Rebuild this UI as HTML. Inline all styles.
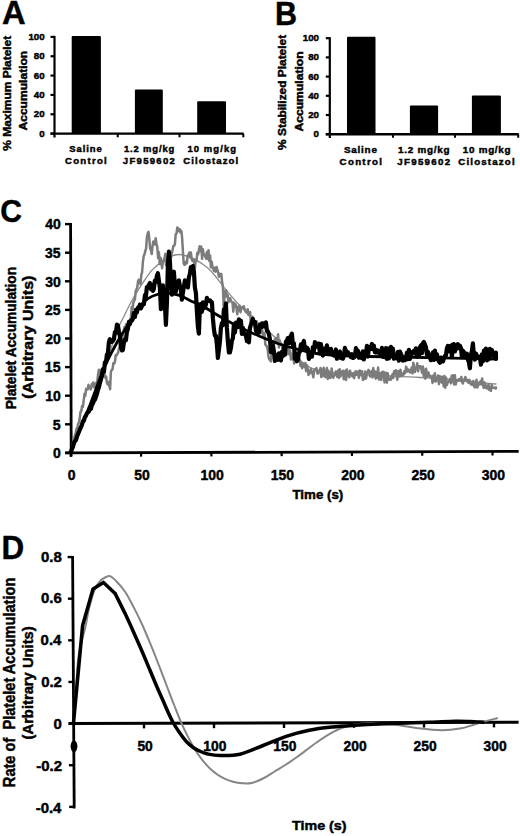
<!DOCTYPE html>
<html><head><meta charset="utf-8"><style>
html,body{margin:0;padding:0;background:#fff;}
svg{display:block;}
text{font-family:"Liberation Sans", sans-serif;font-weight:bold;white-space:pre;}
</style></head><body>
<svg width="520" height="836" viewBox="0 0 520 836">
<rect width="520" height="836" fill="#fff"/>
<text transform="translate(2.08,23.80) scale(1.0069,1)" font-size="32.46" fill="#000" stroke="#000" stroke-width="0.45">A</text>
<text transform="translate(274.92,24.60) scale(0.9393,1)" font-size="32.46" fill="#000" stroke="#000" stroke-width="0.45">B</text>
<text transform="translate(0.20,222.19) scale(0.9619,1)" font-size="31.27" fill="#000" stroke="#000" stroke-width="0.45">C</text>
<text transform="translate(1.46,558.80) scale(0.9624,1)" font-size="32.61" fill="#000" stroke="#000" stroke-width="0.45">D</text>
<rect x="71.70" y="36.00" width="29.20" height="97.60" fill="#000" rx="1"/>
<rect x="134.90" y="89.60" width="27.90" height="44.00" fill="#000" rx="1"/>
<rect x="197.20" y="101.20" width="28.80" height="32.40" fill="#000" rx="1"/>
<line x1="54.50" y1="35.90" x2="54.50" y2="137.50" stroke="#000" stroke-width="2.2" stroke-linecap="butt"/>
<line x1="50.50" y1="133.60" x2="54.50" y2="133.60" stroke="#000" stroke-width="2.2" stroke-linecap="butt"/>
<line x1="50.50" y1="114.26" x2="54.50" y2="114.26" stroke="#000" stroke-width="2.2" stroke-linecap="butt"/>
<line x1="50.50" y1="94.92" x2="54.50" y2="94.92" stroke="#000" stroke-width="2.2" stroke-linecap="butt"/>
<line x1="50.50" y1="75.58" x2="54.50" y2="75.58" stroke="#000" stroke-width="2.2" stroke-linecap="butt"/>
<line x1="50.50" y1="56.24" x2="54.50" y2="56.24" stroke="#000" stroke-width="2.2" stroke-linecap="butt"/>
<line x1="50.50" y1="36.90" x2="54.50" y2="36.90" stroke="#000" stroke-width="2.2" stroke-linecap="butt"/>
<line x1="50.50" y1="133.60" x2="243.60" y2="133.60" stroke="#000" stroke-width="2.4" stroke-linecap="butt"/>
<line x1="117.70" y1="133.60" x2="117.70" y2="137.30" stroke="#000" stroke-width="2" stroke-linecap="butt"/>
<line x1="179.50" y1="133.60" x2="179.50" y2="137.30" stroke="#000" stroke-width="2" stroke-linecap="butt"/>
<line x1="243.30" y1="133.60" x2="243.30" y2="137.30" stroke="#000" stroke-width="2" stroke-linecap="butt"/>
<text transform="translate(39.20,136.60) scale(1.0000,1)" font-size="9.72" fill="#000" stroke="#000" stroke-width="0.45">0</text>
<text transform="translate(33.80,117.26) scale(1.0000,1)" font-size="9.72" fill="#000" stroke="#000" stroke-width="0.45">20</text>
<text transform="translate(33.80,97.92) scale(1.0000,1)" font-size="9.72" fill="#000" stroke="#000" stroke-width="0.45">40</text>
<text transform="translate(33.80,78.58) scale(1.0000,1)" font-size="9.72" fill="#000" stroke="#000" stroke-width="0.45">60</text>
<text transform="translate(33.80,59.24) scale(1.0000,1)" font-size="9.72" fill="#000" stroke="#000" stroke-width="0.45">80</text>
<text transform="translate(28.41,39.90) scale(1.0000,1)" font-size="9.72" fill="#000" stroke="#000" stroke-width="0.45">100</text>
<text x="69.22" y="151.50" font-size="9.42" letter-spacing="0.97" fill="#000" stroke="#000" stroke-width="0.45">Saline</text>
<text x="65.02" y="164.20" font-size="9.57" letter-spacing="1.28" fill="#000" stroke="#000" stroke-width="0.45">Control</text>
<text x="123.89" y="151.50" font-size="9.42" letter-spacing="0.87" fill="#000" stroke="#000" stroke-width="0.45">1.2 mg/kg</text>
<text x="122.86" y="164.20" font-size="9.57" letter-spacing="1.28" fill="#000" stroke="#000" stroke-width="0.45">JF959602</text>
<text x="187.39" y="151.50" font-size="9.42" letter-spacing="1.13" fill="#000" stroke="#000" stroke-width="0.45">10 mg/kg</text>
<text x="183.32" y="164.20" font-size="9.57" letter-spacing="1.08" fill="#000" stroke="#000" stroke-width="0.45">Cilostazol</text>
<text transform="translate(11.28,150.70) rotate(-90) scale(1.0358,1)" font-size="11.56" fill="#000" stroke="#000" stroke-width="0.45">% Maximum Platelet</text>
<text transform="translate(27.19,130.50) rotate(-90) scale(1.0825,1)" font-size="11.16" fill="#000" stroke="#000" stroke-width="0.45">Accumulation</text>
<rect x="347.00" y="36.70" width="28.50" height="97.50" fill="#000" rx="1"/>
<rect x="409.90" y="105.50" width="28.20" height="28.70" fill="#000" rx="1"/>
<rect x="471.90" y="95.60" width="29.00" height="38.60" fill="#000" rx="1"/>
<line x1="329.80" y1="37.20" x2="329.80" y2="138.00" stroke="#000" stroke-width="2.2" stroke-linecap="butt"/>
<line x1="325.80" y1="134.20" x2="329.80" y2="134.20" stroke="#000" stroke-width="2.2" stroke-linecap="butt"/>
<line x1="325.80" y1="115.00" x2="329.80" y2="115.00" stroke="#000" stroke-width="2.2" stroke-linecap="butt"/>
<line x1="325.80" y1="95.80" x2="329.80" y2="95.80" stroke="#000" stroke-width="2.2" stroke-linecap="butt"/>
<line x1="325.80" y1="76.60" x2="329.80" y2="76.60" stroke="#000" stroke-width="2.2" stroke-linecap="butt"/>
<line x1="325.80" y1="57.40" x2="329.80" y2="57.40" stroke="#000" stroke-width="2.2" stroke-linecap="butt"/>
<line x1="325.80" y1="38.20" x2="329.80" y2="38.20" stroke="#000" stroke-width="2.2" stroke-linecap="butt"/>
<line x1="325.80" y1="134.20" x2="518.80" y2="134.20" stroke="#000" stroke-width="2.4" stroke-linecap="butt"/>
<line x1="393.00" y1="134.20" x2="393.00" y2="137.80" stroke="#000" stroke-width="2" stroke-linecap="butt"/>
<line x1="455.00" y1="134.20" x2="455.00" y2="137.80" stroke="#000" stroke-width="2" stroke-linecap="butt"/>
<line x1="518.20" y1="134.20" x2="518.20" y2="137.80" stroke="#000" stroke-width="2" stroke-linecap="butt"/>
<text transform="translate(313.60,137.20) scale(1.0000,1)" font-size="9.72" fill="#000" stroke="#000" stroke-width="0.45">0</text>
<text transform="translate(308.20,118.00) scale(1.0000,1)" font-size="9.72" fill="#000" stroke="#000" stroke-width="0.45">20</text>
<text transform="translate(308.20,98.80) scale(1.0000,1)" font-size="9.72" fill="#000" stroke="#000" stroke-width="0.45">40</text>
<text transform="translate(308.20,79.60) scale(1.0000,1)" font-size="9.72" fill="#000" stroke="#000" stroke-width="0.45">60</text>
<text transform="translate(308.20,60.40) scale(1.0000,1)" font-size="9.72" fill="#000" stroke="#000" stroke-width="0.45">80</text>
<text transform="translate(302.81,41.20) scale(1.0000,1)" font-size="9.72" fill="#000" stroke="#000" stroke-width="0.45">100</text>
<text x="343.90" y="152.80" font-size="9.86" letter-spacing="0.80" fill="#000" stroke="#000" stroke-width="0.45">Saline</text>
<text x="339.61" y="165.00" font-size="9.71" letter-spacing="1.30" fill="#000" stroke="#000" stroke-width="0.45">Control</text>
<text x="397.96" y="152.80" font-size="9.86" letter-spacing="0.78" fill="#000" stroke="#000" stroke-width="0.45">1.2 mg/kg</text>
<text x="397.25" y="165.00" font-size="9.71" letter-spacing="1.31" fill="#000" stroke="#000" stroke-width="0.45">JF959602</text>
<text x="462.86" y="152.80" font-size="9.86" letter-spacing="0.71" fill="#000" stroke="#000" stroke-width="0.45">10 mg/kg</text>
<text x="458.31" y="165.00" font-size="9.71" letter-spacing="1.17" fill="#000" stroke="#000" stroke-width="0.45">Cilostazol</text>
<text transform="translate(286.18,149.90) rotate(-90) scale(1.0308,1)" font-size="11.56" fill="#000" stroke="#000" stroke-width="0.45">% Stabilized Platelet</text>
<text transform="translate(302.50,131.50) rotate(-90) scale(1.1895,1)" font-size="10.20" fill="#000" stroke="#000" stroke-width="0.45">Accumulation</text>
<line x1="70.60" y1="223.10" x2="71.20" y2="456.50" stroke="#000" stroke-width="2.8" stroke-linecap="butt"/>
<line x1="65.00" y1="452.90" x2="70.80" y2="452.90" stroke="#000" stroke-width="2.4" stroke-linecap="butt"/>
<line x1="65.00" y1="424.30" x2="70.80" y2="424.30" stroke="#000" stroke-width="2.4" stroke-linecap="butt"/>
<line x1="65.00" y1="395.70" x2="70.80" y2="395.70" stroke="#000" stroke-width="2.4" stroke-linecap="butt"/>
<line x1="65.00" y1="367.10" x2="70.80" y2="367.10" stroke="#000" stroke-width="2.4" stroke-linecap="butt"/>
<line x1="65.00" y1="338.50" x2="70.80" y2="338.50" stroke="#000" stroke-width="2.4" stroke-linecap="butt"/>
<line x1="65.00" y1="309.90" x2="70.80" y2="309.90" stroke="#000" stroke-width="2.4" stroke-linecap="butt"/>
<line x1="65.00" y1="281.30" x2="70.80" y2="281.30" stroke="#000" stroke-width="2.4" stroke-linecap="butt"/>
<line x1="65.00" y1="252.70" x2="70.80" y2="252.70" stroke="#000" stroke-width="2.4" stroke-linecap="butt"/>
<line x1="65.00" y1="224.10" x2="70.80" y2="224.10" stroke="#000" stroke-width="2.4" stroke-linecap="butt"/>
<line x1="65.00" y1="452.90" x2="518.70" y2="451.40" stroke="#000" stroke-width="2.8" stroke-linecap="butt"/>
<line x1="70.80" y1="452.88" x2="70.80" y2="456.88" stroke="#000" stroke-width="2.2" stroke-linecap="butt"/>
<line x1="141.08" y1="452.65" x2="141.08" y2="456.65" stroke="#000" stroke-width="2.2" stroke-linecap="butt"/>
<line x1="211.37" y1="452.42" x2="211.37" y2="456.42" stroke="#000" stroke-width="2.2" stroke-linecap="butt"/>
<line x1="281.65" y1="452.18" x2="281.65" y2="456.18" stroke="#000" stroke-width="2.2" stroke-linecap="butt"/>
<line x1="351.94" y1="451.95" x2="351.94" y2="455.95" stroke="#000" stroke-width="2.2" stroke-linecap="butt"/>
<line x1="422.23" y1="451.72" x2="422.23" y2="455.72" stroke="#000" stroke-width="2.2" stroke-linecap="butt"/>
<line x1="492.51" y1="451.49" x2="492.51" y2="455.49" stroke="#000" stroke-width="2.2" stroke-linecap="butt"/>
<text transform="translate(53.02,458.26) scale(1.0000,1)" font-size="13.94" fill="#000" stroke="#000" stroke-width="0.45">0</text>
<text transform="translate(52.70,429.66) scale(1.0000,1)" font-size="14.14" fill="#000" stroke="#000" stroke-width="0.45">5</text>
<text transform="translate(45.28,401.06) scale(1.0000,1)" font-size="13.94" fill="#000" stroke="#000" stroke-width="0.45">10</text>
<text transform="translate(44.86,372.46) scale(1.0000,1)" font-size="14.14" fill="#000" stroke="#000" stroke-width="0.45">15</text>
<text transform="translate(45.28,343.86) scale(1.0000,1)" font-size="13.94" fill="#000" stroke="#000" stroke-width="0.45">20</text>
<text transform="translate(45.07,315.26) scale(1.0000,1)" font-size="13.94" fill="#000" stroke="#000" stroke-width="0.45">25</text>
<text transform="translate(45.28,286.66) scale(1.0000,1)" font-size="13.94" fill="#000" stroke="#000" stroke-width="0.45">30</text>
<text transform="translate(45.07,258.06) scale(1.0000,1)" font-size="13.94" fill="#000" stroke="#000" stroke-width="0.45">35</text>
<text transform="translate(45.28,229.46) scale(1.0000,1)" font-size="13.94" fill="#000" stroke="#000" stroke-width="0.45">40</text>
<text transform="translate(67.73,480.06) scale(1.0000,1)" font-size="13.94" fill="#000" stroke="#000" stroke-width="0.45">0</text>
<text transform="translate(134.22,480.06) scale(1.0000,1)" font-size="13.94" fill="#000" stroke="#000" stroke-width="0.45">50</text>
<text transform="translate(200.39,480.06) scale(1.0000,1)" font-size="13.94" fill="#000" stroke="#000" stroke-width="0.45">100</text>
<text transform="translate(270.67,480.06) scale(1.0000,1)" font-size="13.94" fill="#000" stroke="#000" stroke-width="0.45">150</text>
<text transform="translate(341.17,480.06) scale(1.0000,1)" font-size="13.94" fill="#000" stroke="#000" stroke-width="0.45">200</text>
<text transform="translate(411.45,480.06) scale(1.0000,1)" font-size="13.94" fill="#000" stroke="#000" stroke-width="0.45">250</text>
<text transform="translate(481.81,480.06) scale(1.0000,1)" font-size="13.94" fill="#000" stroke="#000" stroke-width="0.45">300</text>
<text transform="translate(16.46,409.29) rotate(-90) scale(0.9675,1)" font-size="14.15" fill="#000" stroke="#000" stroke-width="0.45">Platelet Accumulation</text>
<text transform="translate(33.39,398.70) rotate(-90) scale(1.1208,1)" font-size="14.33" fill="#000" stroke="#000" stroke-width="0.45">(Arbitrary Units)</text>
<text transform="translate(292.47,498.59) scale(1.0740,1)" font-size="12.41" fill="#000" stroke="#000" stroke-width="0.45">Time (s)</text>
<path d="M70.90,452.00 C74.92,442.50 87.43,414.80 95.00,395.00 C102.57,375.20 111.43,346.37 116.30,333.20 C121.17,320.03 121.57,321.48 124.20,316.00 C126.83,310.52 129.03,305.77 132.10,300.30 C135.17,294.83 139.62,287.82 142.60,283.20 C145.58,278.58 148.23,274.97 150.00,272.60 C151.77,270.23 150.48,271.37 153.20,269.00 C155.92,266.63 161.92,260.82 166.30,258.40 C170.68,255.98 175.12,254.50 179.50,254.50 C183.88,254.50 189.18,257.08 192.60,258.40 C196.02,259.72 196.90,260.27 200.00,262.40 C203.10,264.53 206.90,266.67 211.20,271.20 C215.50,275.73 221.13,283.97 225.80,289.60 C230.47,295.23 234.72,300.18 239.20,305.00 C243.68,309.82 247.90,314.17 252.70,318.50 C257.50,322.83 263.45,327.08 268.00,331.00 C272.55,334.92 276.33,338.50 280.00,342.00 C283.67,345.50 286.53,348.87 290.00,352.00 C293.47,355.13 297.40,358.22 300.80,360.80 C304.20,363.38 307.20,365.80 310.40,367.50 C313.60,369.20 315.07,370.00 320.00,371.00 C324.93,372.00 330.00,372.75 340.00,373.50 C350.00,374.25 366.67,374.83 380.00,375.50 C393.33,376.17 406.67,376.67 420.00,377.50 C433.33,378.33 447.33,379.42 460.00,380.50 C472.67,381.58 490.00,383.42 496.00,384.00" fill="none" stroke="#8a8a8a" stroke-width="1.3" stroke-linejoin="round" stroke-linecap="round"/>
<polyline points="70.90,451.37 71.70,449.68 72.50,445.59 73.30,441.15 74.10,438.49 74.90,435.31 75.70,433.50 76.50,428.79 77.30,428.13 78.10,423.86 78.90,422.61 79.70,418.28 80.50,411.76 81.30,411.14 82.10,406.06 82.90,406.86 83.70,400.43 84.50,393.68 85.30,395.78 86.10,388.75 86.90,389.49 87.70,389.53 88.50,384.76 89.30,388.28 90.10,387.93 90.90,389.46 91.70,384.39 92.50,383.86 93.30,382.44 94.10,387.38 94.90,385.36 95.70,384.02 96.50,382.51 97.30,381.05 98.10,374.04 98.90,369.72 99.70,374.32 100.50,373.38 101.30,370.25 102.10,368.52 102.90,371.78 103.70,371.96 104.50,374.66 105.30,377.72 106.10,376.53 106.90,382.64 107.70,384.38 108.50,382.03 109.30,385.79 110.10,389.31 110.90,371.71 111.70,369.95 112.50,369.62 113.30,363.30 114.10,363.71 114.90,362.01 115.70,355.24 116.50,355.37 117.30,353.92 118.10,352.82 118.90,348.77 119.70,347.29 120.50,345.80 121.30,343.06 122.10,339.79 122.90,333.34 123.70,331.33 124.50,327.10 125.30,330.24 126.10,324.14 126.90,325.62 127.70,330.30 128.50,326.44 129.30,321.15 130.10,319.45 130.90,317.97 131.70,307.09 132.50,309.42 133.30,302.93 134.10,300.57 134.90,299.53 135.70,291.25 136.50,289.15 137.30,287.35 138.10,280.96 138.90,279.69 139.70,281.51 140.50,284.18 141.30,275.16 142.10,272.08 142.90,261.88 143.70,256.06 144.50,254.41 145.30,251.10 146.10,248.44 146.90,237.32 147.70,233.59 148.50,231.85 149.30,238.47 150.10,248.73 150.90,249.49 151.70,254.10 152.50,246.48 153.30,241.52 154.10,242.64 154.90,244.36 155.70,238.21 156.50,244.42 157.30,247.02 158.10,258.08 158.90,252.26 159.70,264.02 160.50,257.69 161.30,260.20 162.10,268.20 162.90,262.43 163.70,260.89 164.50,258.38 165.30,253.86 166.10,265.17 166.90,264.39 167.70,262.72 168.50,262.26 169.30,261.98 170.10,259.10 170.90,257.85 171.70,253.81 172.50,250.29 173.30,245.95 174.10,245.96 174.90,243.95 175.70,234.30 176.50,233.65 177.30,227.44 178.10,228.56 178.90,231.20 179.70,229.24 180.50,232.49 181.30,230.91 182.10,237.55 182.90,251.23 183.70,263.35 184.50,264.82 185.30,264.46 186.10,261.60 186.90,263.14 187.70,255.35 188.50,254.92 189.30,252.55 190.10,257.42 190.90,252.55 191.70,259.29 192.50,261.05 193.30,259.02 194.10,263.12 194.90,268.18 195.70,259.54 196.50,261.04 197.30,252.76 198.10,254.48 198.90,250.03 199.70,246.25 200.50,251.35 201.30,246.75 202.10,258.79 202.90,249.14 203.70,254.54 204.50,254.53 205.30,256.46 206.10,258.67 206.90,252.03 207.70,258.91 208.50,250.17 209.30,260.90 210.10,255.51 210.90,267.31 211.70,261.76 212.50,266.97 213.30,269.21 214.10,270.87 214.90,267.79 215.70,271.62 216.50,266.93 217.30,269.30 218.10,272.28 218.90,276.86 219.70,273.85 220.50,274.36 221.30,274.00 222.10,282.05 222.90,286.73 223.70,306.96 224.50,297.66 225.30,290.85 226.10,290.33 226.90,296.66 227.70,295.05 228.50,302.26 229.30,298.88 230.10,298.06 230.90,300.58 231.70,302.30 232.50,302.30 233.30,311.64 234.10,302.71 234.90,306.72 235.70,304.49 236.50,308.22 237.30,314.34 238.10,306.65 238.90,310.44 239.70,305.78 240.50,312.22 241.30,307.54 242.10,307.42 242.90,307.96 243.70,306.19 244.50,308.62 245.30,310.62 246.10,312.21 246.90,312.56 247.70,309.27 248.50,314.98 249.30,312.44 250.10,312.16 250.90,324.55 251.70,320.15 252.50,316.80 253.30,322.34 254.10,323.90 254.90,322.25 255.70,325.88 256.50,321.40 257.30,324.13 258.10,326.15 258.90,331.13 259.70,330.61 260.50,328.78 261.30,333.05 262.10,329.52 262.90,333.84 263.70,336.01 264.50,332.99 265.30,344.27 266.10,345.69 266.90,346.50 267.70,349.30 268.50,356.60 269.30,359.33 270.10,359.83 270.90,361.41 271.70,350.97 272.50,344.03 273.30,348.51 274.10,342.31 274.90,339.25 275.70,338.09 276.50,341.64 277.30,342.13 278.10,334.20 278.90,347.52 279.70,340.36 280.50,343.62 281.30,344.41 282.10,344.79 282.90,352.43 283.70,349.30 284.50,353.17 285.30,348.04 286.10,352.69 286.90,347.21 287.70,354.19 288.50,348.87 289.30,354.15 290.10,350.72 290.90,359.53 291.70,357.93 292.50,359.17 293.30,354.58 294.10,363.62 294.90,355.31 295.70,357.42 296.50,356.04 297.30,360.14 298.10,358.12 298.90,360.55 299.70,359.57 300.50,366.07 301.30,362.86 302.10,368.19 302.90,363.80 303.70,366.33 304.50,367.20 305.30,363.02 306.10,371.09 306.90,365.12 307.70,368.56 308.50,375.08 309.30,370.83 310.10,373.28 310.90,368.99 311.70,372.13 312.50,373.13 313.30,377.30 314.10,370.64 314.90,369.31 315.70,369.86 316.50,368.12 317.30,373.31 318.10,373.55 318.90,370.71 319.70,371.46 320.50,367.94 321.30,377.05 322.10,369.76 322.90,375.98 323.70,367.75 324.50,372.55 325.30,377.16 326.10,374.08 326.90,368.11 327.70,378.96 328.50,370.84 329.30,373.39 330.10,377.94 330.90,377.10 331.70,368.41 332.50,376.06 333.30,377.75 334.10,375.20 334.90,374.64 335.70,371.51 336.50,375.47 337.30,377.05 338.10,370.48 338.90,377.93 339.70,369.18 340.50,376.40 341.30,371.85 342.10,374.48 342.90,370.70 343.70,379.17 344.50,375.55 345.30,370.68 346.10,379.94 346.90,369.52 347.70,375.83 348.50,372.52 349.30,377.29 350.10,370.71 350.90,373.91 351.70,375.26 352.50,376.44 353.30,373.00 354.10,378.18 354.90,374.26 355.70,371.15 356.50,374.65 357.30,374.62 358.10,371.57 358.90,377.92 359.70,370.56 360.50,374.94 361.30,371.48 362.10,371.24 362.90,379.88 363.70,376.26 364.50,379.04 365.30,371.50 366.10,378.40 366.90,373.88 367.70,372.46 368.50,369.89 369.30,371.50 370.10,376.53 370.90,374.32 371.70,371.04 372.50,377.40 373.30,368.09 374.10,376.20 374.90,371.50 375.70,378.71 376.50,372.09 377.30,377.51 378.10,367.59 378.90,379.46 379.70,374.71 380.50,373.20 381.30,380.02 382.10,371.90 382.90,375.49 383.70,371.82 384.50,382.38 385.30,377.39 386.10,372.64 386.90,382.65 387.70,373.30 388.50,377.32 389.30,379.73 390.10,378.22 390.90,379.76 391.70,376.49 392.50,374.21 393.30,377.93 394.10,371.23 394.90,373.39 395.70,370.25 396.50,375.36 397.30,379.66 398.10,370.90 398.90,371.88 399.70,376.58 400.50,369.69 401.30,376.02 402.10,375.25 402.90,373.56 403.70,374.56 404.50,370.93 405.30,372.95 406.10,366.63 406.90,368.96 407.70,371.58 408.50,369.52 409.30,370.55 410.10,372.44 410.90,371.97 411.70,367.42 412.50,373.40 413.30,362.71 414.10,366.03 414.90,372.01 415.70,368.55 416.50,368.69 417.30,363.30 418.10,371.25 418.90,366.14 419.70,366.16 420.50,366.29 421.30,369.09 422.10,372.79 422.90,366.60 423.70,376.26 424.50,370.10 425.30,378.71 426.10,368.68 426.90,376.42 427.70,375.48 428.50,372.49 429.30,376.38 430.10,375.49 430.90,376.88 431.70,376.83 432.50,382.91 433.30,375.63 434.10,381.03 434.90,373.33 435.70,381.64 436.50,379.34 437.30,380.06 438.10,375.45 438.90,384.20 439.70,376.22 440.50,381.85 441.30,376.71 442.10,382.93 442.90,376.77 443.70,386.47 444.50,376.07 445.30,387.64 446.10,377.81 446.90,385.03 447.70,382.24 448.50,381.97 449.30,380.96 450.10,378.86 450.90,383.38 451.70,375.67 452.50,381.49 453.30,375.18 454.10,384.43 454.90,375.16 455.70,384.43 456.50,380.40 457.30,380.15 458.10,380.59 458.90,379.02 459.70,380.55 460.50,380.37 461.30,377.03 462.10,382.32 462.90,383.45 463.70,379.86 464.50,380.48 465.30,377.09 466.10,378.51 466.90,381.18 467.70,380.58 468.50,382.94 469.30,379.85 470.10,381.06 470.90,384.49 471.70,383.98 472.50,384.77 473.30,381.06 474.10,386.60 474.90,387.39 475.70,386.35 476.50,379.84 477.30,387.61 478.10,385.04 478.90,384.60 479.70,383.13 480.50,381.19 481.30,384.42 482.10,378.39 482.90,383.37 483.70,387.91 484.50,382.47 485.30,384.30 486.10,387.88 486.90,388.63 487.70,386.67 488.50,384.50 489.30,390.00 490.10,388.37 490.90,390.75 491.70,384.77 492.50,387.33 493.30,387.83 494.10,387.82 494.90,387.79 495.70,388.53 496.00,387.50" fill="none" stroke="#7c7c7c" stroke-width="2.5" stroke-linejoin="round" stroke-linecap="round" opacity="1"/>
<polyline points="70.90,451.37 71.90,449.26 72.90,446.96 73.90,442.65 74.90,441.21 75.90,440.07 76.90,436.79 77.90,434.28 78.90,431.93 79.90,429.24 80.90,427.26 81.90,424.83 82.90,421.28 83.90,420.63 84.90,417.11 85.90,415.85 86.90,413.32 87.90,412.22 88.90,411.46 89.90,407.75 90.90,408.91 91.90,404.99 92.90,403.50 93.90,400.95 94.90,399.76 95.90,396.89 96.90,394.02 97.90,390.07 98.90,387.31 99.90,383.11 100.90,379.55 101.90,376.08 102.90,369.46 103.90,371.97 104.90,362.39 105.90,362.47 106.90,354.79 107.90,352.91 108.90,342.27 109.90,339.18 110.90,341.83 111.90,341.79 112.90,340.89 113.90,339.12 114.90,332.03 115.90,332.92 116.90,324.66 117.90,325.46 118.90,331.46 119.90,336.15 120.90,347.16 121.90,350.40 122.90,350.09 123.90,342.22 124.90,339.39 125.90,340.29 126.90,331.79 127.90,328.81 128.90,321.94 129.90,324.13 130.90,320.75 131.90,320.60 132.90,319.00 133.90,312.88 134.90,316.87 135.90,309.89 136.90,312.44 137.90,307.67 138.90,307.35 139.90,304.78 140.90,308.36 141.90,306.09 142.90,304.63 143.90,304.25 144.90,295.17 145.90,296.25 146.90,287.04 147.90,287.48 148.90,284.74 149.90,283.08 150.90,289.26 151.90,284.87 152.90,290.89 153.90,288.57 154.90,280.52 155.90,282.06 156.90,275.77 157.90,273.16 158.90,280.82 159.90,287.85 160.90,309.08 161.90,296.13 162.90,285.28 163.90,300.53 164.90,305.42 165.90,324.84 166.90,303.28 167.90,264.66 168.90,251.68 169.90,261.57 170.90,281.27 171.90,294.69 172.90,283.40 173.90,271.73 174.90,285.80 175.90,291.53 176.90,285.19 177.90,281.69 178.90,280.41 179.90,286.07 180.90,289.97 181.90,299.76 182.90,292.76 183.90,286.52 184.90,280.26 185.90,283.68 186.90,286.57 187.90,287.37 188.90,277.27 189.90,273.74 190.90,267.17 191.90,268.68 192.90,266.06 193.90,271.65 194.90,287.71 195.90,292.93 196.90,311.36 197.90,326.91 198.90,333.67 199.90,305.86 200.90,304.09 201.90,311.80 202.90,302.26 203.90,308.07 204.90,306.92 205.90,304.71 206.90,297.89 207.90,301.06 208.90,300.22 209.90,300.29 210.90,301.70 211.90,302.11 212.90,318.24 213.90,329.19 214.90,335.56 215.90,335.61 216.90,344.50 217.90,357.98 218.90,349.99 219.90,342.06 220.90,327.88 221.90,323.23 222.90,325.15 223.90,309.33 224.90,317.68 225.90,303.30 226.90,327.89 227.90,341.98 228.90,352.46 229.90,352.44 230.90,348.03 231.90,340.53 232.90,338.21 233.90,324.36 234.90,332.60 235.90,322.60 236.90,324.61 237.90,327.08 238.90,319.28 239.90,322.32 240.90,320.74 241.90,333.89 242.90,327.76 243.90,333.42 244.90,334.51 245.90,335.44 246.90,341.12 247.90,333.45 248.90,342.31 249.90,328.00 250.90,324.96 251.90,321.82 252.90,319.03 253.90,322.98 254.90,321.87 255.90,330.60 256.90,331.95 257.90,327.88 258.90,332.64 259.90,324.69 260.90,327.38 261.90,323.39 262.90,326.56 263.90,323.53 264.90,326.08 265.90,322.37 266.90,330.79 267.90,331.41 268.90,334.24 269.90,339.16 270.90,352.13 271.90,351.92 272.90,345.35 273.90,351.15 274.90,360.95 275.90,354.88 276.90,358.68 277.90,359.78 278.90,353.43 279.90,358.41 280.90,360.44 281.90,351.85 282.90,356.12 283.90,347.94 284.90,354.73 285.90,341.52 286.90,340.70 287.90,338.08 288.90,343.41 289.90,337.31 290.90,335.82 291.90,333.74 292.90,345.03 293.90,343.24 294.90,358.98 295.90,353.45 296.90,361.28 297.90,359.84 298.90,352.81 299.90,351.82 300.90,344.41 301.90,346.97 302.90,343.65 303.90,340.94 304.90,349.41 305.90,350.17 306.90,347.59 307.90,348.92 308.90,358.86 309.90,356.45 310.90,352.07 311.90,356.70 312.90,347.00 313.90,350.99 314.90,342.18 315.90,347.04 316.90,344.68 317.90,343.70 318.90,343.63 319.90,353.49 320.90,344.00 321.90,352.85 322.90,355.63 323.90,350.55 324.90,348.43 325.90,350.66 326.90,345.40 327.90,351.81 328.90,350.94 329.90,353.24 330.90,348.79 331.90,354.41 332.90,353.08 333.90,355.59 334.90,353.24 335.90,349.45 336.90,358.75 337.90,353.51 338.90,352.37 339.90,351.58 340.90,358.13 341.90,355.88 342.90,358.70 343.90,355.76 344.90,347.86 345.90,350.68 346.90,354.01 347.90,352.15 348.90,355.21 349.90,355.05 350.90,357.05 351.90,354.14 352.90,357.92 353.90,357.53 354.90,356.46 355.90,348.15 356.90,349.99 357.90,350.89 358.90,357.77 359.90,353.61 360.90,354.16 361.90,358.16 362.90,351.42 363.90,359.51 364.90,351.73 365.90,355.72 366.90,345.74 367.90,356.54 368.90,347.32 369.90,347.13 370.90,348.98 371.90,343.96 372.90,349.00 373.90,345.78 374.90,352.27 375.90,352.51 376.90,350.08 377.90,350.60 378.90,352.85 379.90,354.04 380.90,355.09 381.90,347.95 382.90,356.86 383.90,354.56 384.90,357.11 385.90,348.13 386.90,358.92 387.90,348.54 388.90,358.32 389.90,352.32 390.90,346.80 391.90,349.38 392.90,348.65 393.90,358.69 394.90,356.26 395.90,358.21 396.90,358.32 397.90,351.77 398.90,360.72 399.90,351.70 400.90,353.83 401.90,356.05 402.90,360.59 403.90,357.26 404.90,360.20 405.90,359.32 406.90,352.70 407.90,359.09 408.90,349.84 409.90,358.90 410.90,354.89 411.90,352.24 412.90,353.33 413.90,350.95 414.90,353.13 415.90,348.35 416.90,356.58 417.90,355.37 418.90,355.62 419.90,347.43 420.90,345.57 421.90,353.24 422.90,343.30 423.90,341.91 424.90,344.51 425.90,347.28 426.90,354.75 427.90,351.85 428.90,354.82 429.90,357.48 430.90,360.16 431.90,357.31 432.90,352.44 433.90,360.00 434.90,350.59 435.90,358.95 436.90,354.37 437.90,358.45 438.90,361.49 439.90,362.73 440.90,357.56 441.90,358.21 442.90,361.46 443.90,358.54 444.90,356.00 445.90,355.51 446.90,348.34 447.90,345.90 448.90,351.27 449.90,347.42 450.90,345.75 451.90,357.18 452.90,344.54 453.90,344.09 454.90,351.48 455.90,348.85 456.90,347.09 457.90,344.12 458.90,348.18 459.90,345.66 460.90,348.02 461.90,356.79 462.90,350.68 463.90,351.95 464.90,357.21 465.90,354.96 466.90,353.62 467.90,359.55 468.90,362.12 469.90,368.29 470.90,355.00 471.90,350.93 472.90,343.38 473.90,356.19 474.90,359.58 475.90,353.49 476.90,355.70 477.90,357.69 478.90,356.88 479.90,356.80 480.90,364.63 481.90,354.31 482.90,361.34 483.90,350.56 484.90,358.22 485.90,348.50 486.90,360.37 487.90,359.61 488.90,359.00 489.90,348.76 490.90,355.64 491.90,350.18 492.90,353.42 493.90,355.93 494.90,357.11 495.90,352.64 496.00,359.00" fill="none" stroke="#000" stroke-width="4.2" stroke-linejoin="round" stroke-linecap="round" opacity="1"/>
<path d="M70.90,452.00 C74.08,444.17 84.62,418.67 90.00,405.00 C95.38,391.33 98.82,380.22 103.20,370.00 C107.58,359.78 111.92,351.60 116.30,343.70 C120.68,335.80 125.55,328.88 129.50,322.60 C133.45,316.32 136.93,310.00 140.00,306.00 C143.07,302.00 145.05,300.52 147.90,298.60 C150.75,296.68 154.03,295.43 157.10,294.50 C160.17,293.57 162.57,292.87 166.30,293.00 C170.03,293.13 175.12,293.83 179.50,295.30 C183.88,296.77 189.18,300.27 192.60,301.80 C196.02,303.33 196.47,302.65 200.00,304.50 C203.53,306.35 209.47,310.32 213.80,312.90 C218.13,315.48 221.50,317.53 226.00,320.00 C230.50,322.47 235.38,325.07 240.80,327.70 C246.22,330.33 252.35,333.17 258.50,335.80 C264.65,338.43 271.30,341.27 277.70,343.50 C284.10,345.73 290.48,347.53 296.90,349.20 C303.32,350.87 309.02,352.45 316.20,353.50 C323.38,354.55 331.37,355.00 340.00,355.50 C348.63,356.00 358.00,356.25 368.00,356.50 C378.00,356.75 388.00,356.78 400.00,357.00 C412.00,357.22 424.00,357.47 440.00,357.80 C456.00,358.13 486.67,358.80 496.00,359.00" fill="none" stroke="#000" stroke-width="2.8" stroke-linejoin="round" stroke-linecap="round"/>
<line x1="72.60" y1="556.04" x2="74.20" y2="808.50" stroke="#000" stroke-width="2.8" stroke-linecap="butt"/>
<line x1="67.61" y1="557.04" x2="72.61" y2="557.04" stroke="#000" stroke-width="2.4" stroke-linecap="butt"/>
<line x1="67.87" y1="598.68" x2="72.87" y2="598.68" stroke="#000" stroke-width="2.4" stroke-linecap="butt"/>
<line x1="68.14" y1="640.32" x2="73.14" y2="640.32" stroke="#000" stroke-width="2.4" stroke-linecap="butt"/>
<line x1="68.40" y1="681.96" x2="73.40" y2="681.96" stroke="#000" stroke-width="2.4" stroke-linecap="butt"/>
<line x1="68.66" y1="723.60" x2="73.66" y2="723.60" stroke="#000" stroke-width="2.4" stroke-linecap="butt"/>
<line x1="68.93" y1="765.24" x2="73.93" y2="765.24" stroke="#000" stroke-width="2.4" stroke-linecap="butt"/>
<line x1="69.19" y1="806.88" x2="74.19" y2="806.88" stroke="#000" stroke-width="2.4" stroke-linecap="butt"/>
<line x1="68.50" y1="723.60" x2="518.60" y2="722.30" stroke="#000" stroke-width="3" stroke-linecap="butt"/>
<line x1="144.00" y1="723.38" x2="144.00" y2="728.38" stroke="#000" stroke-width="2.4" stroke-linecap="butt"/>
<line x1="214.00" y1="723.18" x2="214.00" y2="728.18" stroke="#000" stroke-width="2.4" stroke-linecap="butt"/>
<line x1="284.00" y1="722.98" x2="284.00" y2="727.98" stroke="#000" stroke-width="2.4" stroke-linecap="butt"/>
<line x1="354.00" y1="722.78" x2="354.00" y2="727.78" stroke="#000" stroke-width="2.4" stroke-linecap="butt"/>
<line x1="424.00" y1="722.57" x2="424.00" y2="727.57" stroke="#000" stroke-width="2.4" stroke-linecap="butt"/>
<line x1="494.00" y1="722.37" x2="494.00" y2="727.37" stroke="#000" stroke-width="2.4" stroke-linecap="butt"/>
<text transform="translate(40.98,561.50) scale(1.0400,1)" font-size="14.37" fill="#000" stroke="#000" stroke-width="0.45">0.8</text>
<text transform="translate(41.06,603.45) scale(1.0400,1)" font-size="14.37" fill="#000" stroke="#000" stroke-width="0.45">0.6</text>
<text transform="translate(40.61,645.41) scale(1.0400,1)" font-size="14.37" fill="#000" stroke="#000" stroke-width="0.45">0.4</text>
<text transform="translate(41.13,687.37) scale(1.0400,1)" font-size="14.37" fill="#000" stroke="#000" stroke-width="0.45">0.2</text>
<text transform="translate(53.61,729.32) scale(1.0400,1)" font-size="14.37" fill="#000" stroke="#000" stroke-width="0.45">0</text>
<text transform="translate(36.20,771.28) scale(1.0400,1)" font-size="14.37" fill="#000" stroke="#000" stroke-width="0.45">-0.2</text>
<text transform="translate(35.68,813.24) scale(1.0400,1)" font-size="14.37" fill="#000" stroke="#000" stroke-width="0.45">-0.4</text>
<text transform="translate(137.41,751.16) scale(1.0000,1)" font-size="13.80" fill="#000" stroke="#000" stroke-width="0.45">50</text>
<text transform="translate(203.34,751.16) scale(1.0000,1)" font-size="13.80" fill="#000" stroke="#000" stroke-width="0.45">100</text>
<text transform="translate(273.34,751.16) scale(1.0000,1)" font-size="13.80" fill="#000" stroke="#000" stroke-width="0.45">150</text>
<text transform="translate(343.54,751.16) scale(1.0000,1)" font-size="13.80" fill="#000" stroke="#000" stroke-width="0.45">200</text>
<text transform="translate(413.54,751.16) scale(1.0000,1)" font-size="13.80" fill="#000" stroke="#000" stroke-width="0.45">250</text>
<text transform="translate(483.61,751.16) scale(1.0000,1)" font-size="13.80" fill="#000" stroke="#000" stroke-width="0.45">300</text>
<ellipse cx="74" cy="746.3" rx="3.4" ry="5.8" fill="#000"/>
<text transform="translate(15.23,787.15) rotate(-90) scale(0.8793,1)" font-size="16.60" fill="#000" stroke="#000" stroke-width="0.45">Rate of  Platelet Accumulation</text>
<text transform="translate(33.41,739.44) rotate(-90) scale(0.9716,1)" font-size="15.19" fill="#000" stroke="#000" stroke-width="0.45">(Arbitrary Units)</text>
<text transform="translate(291.96,830.13) scale(1.0471,1)" font-size="13.69" fill="#000" stroke="#000" stroke-width="0.45">Time (s)</text>
<path d="M73.50,723.00 C73.92,717.50 75.15,701.17 76.00,690.00 C76.85,678.83 77.05,666.43 78.60,656.00 C80.15,645.57 83.55,635.35 85.30,627.40 C87.05,619.45 87.50,614.68 89.10,608.30 C90.70,601.92 92.98,593.73 94.90,589.10 C96.82,584.47 98.75,582.52 100.60,580.50 C102.45,578.48 104.43,577.72 106.00,577.00 C107.57,576.28 108.20,575.42 110.00,576.20 C111.80,576.98 114.28,579.10 116.80,581.70 C119.32,584.30 122.32,587.60 125.10,591.80 C127.88,596.00 130.70,601.53 133.50,606.90 C136.30,612.27 139.10,617.87 141.90,624.00 C144.70,630.13 147.52,636.95 150.30,643.70 C153.08,650.45 155.82,657.37 158.60,664.50 C161.38,671.63 164.38,679.67 167.00,686.50 C169.62,693.33 171.88,699.37 174.30,705.50 C176.72,711.63 179.10,717.87 181.50,723.30 C183.90,728.73 186.30,733.48 188.70,738.10 C191.10,742.72 193.52,747.22 195.90,751.00 C198.28,754.78 200.62,757.83 203.00,760.80 C205.38,763.77 207.70,766.43 210.20,768.80 C212.70,771.17 215.53,773.33 218.00,775.00 C220.47,776.67 222.50,777.67 225.00,778.80 C227.50,779.93 230.12,781.05 233.00,781.80 C235.88,782.55 239.22,783.10 242.30,783.30 C245.38,783.50 248.05,783.80 251.50,783.00 C254.95,782.20 259.15,780.42 263.00,778.50 C266.85,776.58 270.77,773.83 274.60,771.50 C278.43,769.17 282.15,767.00 286.00,764.50 C289.85,762.00 292.67,760.13 297.70,756.50 C302.73,752.87 310.43,746.73 316.20,742.70 C321.97,738.67 327.30,735.00 332.30,732.30 C337.30,729.60 341.58,727.88 346.20,726.50 C350.82,725.12 355.65,724.55 360.00,724.00 C364.35,723.45 366.40,723.07 372.30,723.20 C378.20,723.33 387.78,723.97 395.40,724.80 C403.02,725.63 410.32,727.30 418.00,728.20 C425.68,729.10 434.50,730.15 441.50,730.20 C448.50,730.25 454.62,729.42 460.00,728.50 C465.38,727.58 469.63,725.90 473.80,724.70 C477.97,723.50 481.13,722.37 485.00,721.30 C488.87,720.23 495.00,718.80 497.00,718.30" fill="none" stroke="#858585" stroke-width="2.0" stroke-linejoin="round" stroke-linecap="round"/>
<polyline points="73.50,723.00 82.60,625.50 93.00,589.00 103.50,582.40 115.10,593.50" fill="none" stroke="#000" stroke-width="3.5" stroke-linejoin="round" stroke-linecap="round" opacity="1"/>
<path d="M115.10,593.50 C116.77,596.85 122.03,607.18 125.10,613.60 C128.17,620.02 130.70,625.77 133.50,632.00 C136.30,638.23 139.10,644.50 141.90,651.00 C144.70,657.50 147.78,665.00 150.30,671.00 C152.82,677.00 154.88,682.08 157.00,687.00 C159.12,691.92 161.17,696.33 163.00,700.50 C164.83,704.67 166.32,708.33 168.00,712.00 C169.68,715.67 171.25,719.15 173.10,722.50 C174.95,725.85 176.90,728.93 179.10,732.10 C181.30,735.27 183.90,738.90 186.30,741.50 C188.70,744.10 191.12,746.03 193.50,747.70 C195.88,749.37 198.22,750.45 200.60,751.50 C202.98,752.55 204.57,753.33 207.80,754.00 C211.03,754.67 214.63,755.47 220.00,755.50 C225.37,755.53 232.82,755.87 240.00,754.20 C247.18,752.53 255.40,748.48 263.10,745.50 C270.80,742.52 278.52,738.85 286.20,736.30 C293.88,733.75 301.52,731.75 309.20,730.20 C316.88,728.65 324.60,727.83 332.30,727.00 C340.00,726.17 348.73,725.65 355.40,725.20 C362.07,724.75 364.87,724.62 372.30,724.30 C379.73,723.98 390.38,723.63 400.00,723.30 C409.62,722.97 420.77,722.65 430.00,722.30 C439.23,721.95 448.73,721.33 455.40,721.20 C462.07,721.07 465.40,721.32 470.00,721.50 C474.60,721.68 480.83,722.17 483.00,722.30" fill="none" stroke="#000" stroke-width="3.5" stroke-linejoin="round" stroke-linecap="round"/>
</svg>
</body></html>
